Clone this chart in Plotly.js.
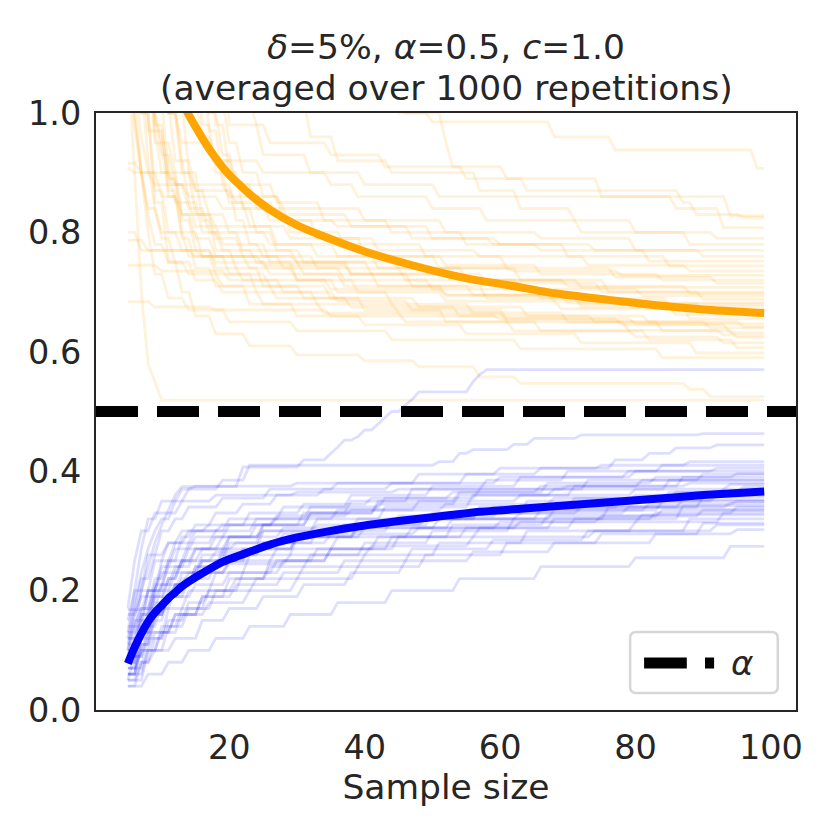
<!DOCTYPE html>
<html>
<head>
<meta charset="utf-8">
<script src="https://cdn.plot.ly/plotly-3.0.1.min.js"></script>
<style>
  html, body { margin: 0; padding: 0; background: #fff; }
  #chart { width: 830px; height: 830px; }
</style>
</head>
<body>
<div id="chart"></div>
<script>
// sample sizes run from 5 to 99
const FIRST_SIZE = 5;
const LAST_SIZE = 99;
const ALPHA_LEVEL = 0.5;

// mean upper bound (orange) and mean lower bound (blue)
const orangeMeanX = [5, 6, 7, 8, 9, 10, 11, 12, 13, 14, 15, 16, 17, 18, 19, 20, 21, 23, 26, 30, 34, 40, 47, 53, 56, 61, 68, 76, 83, 90, 99];
const orangeMeanY = [1.6, 1.42, 1.3, 1.22, 1.16, 1.11, 1.075, 1.045, 1.02, 0.997, 0.977, 0.958, 0.94, 0.924, 0.909, 0.896, 0.885, 0.864, 0.838, 0.812, 0.793, 0.768, 0.745, 0.728, 0.721, 0.712, 0.698, 0.687, 0.678, 0.671, 0.665];
const blueMeanX = [5, 6, 7, 8, 9, 10, 11, 12, 13, 14, 16, 19, 23, 26, 30, 34, 40, 47, 53, 57, 63, 70, 76, 81, 90, 99];
const blueMeanY = [0.078, 0.105, 0.128, 0.148, 0.163, 0.175, 0.187, 0.197, 0.207, 0.215, 0.229, 0.248, 0.265, 0.277, 0.289, 0.298, 0.309, 0.319, 0.327, 0.332, 0.337, 0.343, 0.348, 0.352, 0.36, 0.366];

// single repetitions: [sample size where the bound changes, new value]
const orangeRuns = [
  [[5,1.8],[9,1.5],[14,1.3],[22,1.15],[33,1.05],[45,1.0],[50,0.985],[68,0.96],[77,0.938],[98,0.907]],
  [[5,1.7],[10,1.4],[18,1.2],[30,1.08],[46,1.0],[52,0.95],[53,0.91],[55,0.89],[64,0.87],[87,0.85],[89,0.83],[96,0.825]],
  [[5,1.5],[8,1.25],[12,1.1],[17,1.02],[24,0.98],[26,0.95],[35,0.93],[43,0.91],[61,0.89],[75,0.86],[86,0.84],[93,0.808]],
  [[5,1.4],[7,1.2],[9,1.08],[11,1.0],[13,0.95],[18,0.92],[25,0.9],[35,0.88],[39,0.86],[50,0.84],[58,0.82],[72,0.8],[88,0.78]],
  [[5,0.916],[7,0.9],[12,0.88],[20,0.86],[28,0.84],[40,0.82],[52,0.8],[66,0.79],[80,0.77]],
  [[5,0.908],[6,0.9],[9,0.88],[14,0.86],[19,0.84],[26,0.82],[36,0.81],[47,0.79],[60,0.78],[74,0.77],[90,0.76]],
  [[5,1.3],[7,1.1],[9,1.0],[10,0.95],[12,0.9],[15,0.87],[21,0.85],[27,0.83],[38,0.81],[50,0.79],[59,0.78],[66,0.77],[82,0.752]],
  [[5,1.9],[8,1.4],[11,1.15],[14,1.02],[16,0.96],[18,0.92],[21,0.88],[27,0.85],[34,0.82],[44,0.8],[55,0.78],[70,0.76],[85,0.744]],
  [[5,1.2],[6,1.05],[7,0.96],[8,0.9],[10,0.86],[13,0.83],[18,0.81],[29,0.79],[42,0.77],[57,0.76],[73,0.745],[88,0.735]],
  [[5,0.8],[7,0.77],[16,0.76],[30,0.75],[45,0.74],[62,0.735],[78,0.728]],
  [[5,1.5],[7,1.25],[9,1.1],[11,1.0],[13,0.92],[15,0.87],[17,0.83],[20,0.8],[26,0.78],[36,0.76],[52,0.745],[66,0.73],[84,0.72]],
  [[5,1.7],[9,1.3],[13,1.1],[17,1.0],[19,0.93],[21,0.88],[24,0.84],[29,0.8],[37,0.78],[49,0.76],[61,0.74],[77,0.725],[92,0.715]],
  [[5,0.787],[8,0.77],[15,0.76],[25,0.745],[38,0.73],[55,0.72],[72,0.708]],
  [[5,1.4],[7,1.15],[9,1.0],[10,0.93],[12,0.88],[14,0.84],[17,0.8],[22,0.77],[30,0.75],[41,0.73],[58,0.715],[75,0.7]],
  [[5,1.25],[6,1.1],[8,0.97],[10,0.9],[12,0.85],[15,0.81],[19,0.78],[25,0.76],[33,0.74],[46,0.72],[63,0.705],[81,0.694]],
  [[5,2.0],[10,1.4],[14,1.15],[18,1.02],[20,0.95],[22,0.9],[25,0.86],[28,0.82],[33,0.79],[40,0.76],[51,0.74],[63,0.72],[76,0.7],[90,0.688]],
  [[5,0.745],[10,0.735],[20,0.72],[35,0.705],[52,0.695],[70,0.682]],
  [[5,1.1],[6,0.98],[7,0.9],[8,0.84],[10,0.8],[13,0.77],[18,0.75],[26,0.73],[37,0.71],[52,0.695],[68,0.685],[85,0.676]],
  [[5,1.6],[8,1.2],[10,1.02],[12,0.92],[14,0.85],[16,0.8],[19,0.77],[24,0.75],[31,0.73],[42,0.71],[56,0.695],[72,0.68],[90,0.67]],
  [[5,1.35],[7,1.1],[9,0.97],[11,0.89],[13,0.83],[15,0.79],[18,0.76],[23,0.74],[30,0.72],[39,0.7],[52,0.685],[69,0.672],[86,0.662]],
  [[5,1.8],[10,1.3],[15,1.08],[18,0.98],[20,0.9],[22,0.84],[24,0.8],[27,0.77],[31,0.75],[38,0.73],[47,0.71],[58,0.69],[72,0.675],[88,0.655]],
  [[5,0.684],[9,0.675],[18,0.67],[35,0.66],[60,0.655],[80,0.647]],
  [[5,1.15],[6,0.99],[7,0.9],[8,0.83],[9,0.78],[11,0.75],[14,0.73],[19,0.71],[27,0.69],[38,0.675],[54,0.66],[74,0.65],[91,0.64]],
  [[5,1.5],[7,1.2],[9,1.02],[11,0.9],[13,0.82],[15,0.77],[18,0.74],[22,0.72],[28,0.7],[36,0.685],[47,0.67],[61,0.655],[78,0.645],[94,0.632]],
  [[5,1.9],[10,1.35],[14,1.1],[17,0.97],[19,0.88],[21,0.82],[23,0.78],[26,0.75],[30,0.72],[36,0.7],[44,0.68],[56,0.665],[70,0.65],[84,0.635],[95,0.624]],
  [[5,1.3],[7,1.05],[8,0.92],[9,0.84],[10,0.79],[12,0.75],[15,0.72],[19,0.7],[25,0.68],[34,0.665],[46,0.65],[62,0.635],[80,0.625],[93,0.615]],
  [[5,1.7],[9,1.25],[12,1.02],[14,0.9],[16,0.82],[18,0.77],[21,0.74],[25,0.71],[31,0.69],[40,0.67],[52,0.65],[66,0.635],[82,0.62],[95,0.607]],
  [[5,1.45],[7,1.15],[9,0.98],[11,0.87],[13,0.79],[15,0.74],[18,0.71],[23,0.68],[30,0.66],[40,0.645],[55,0.63],[72,0.615],[89,0.598]],
  [[5,1.2],[6,1.02],[7,0.9],[8,0.8],[9,0.73],[11,0.69],[14,0.67],[20,0.65],[30,0.635],[44,0.62],[63,0.605],[84,0.59]],
  [[5,1.1],[6,0.9],[7,0.7],[8,0.58],[9,0.55],[10,0.519]],
  [[5,1.3],[7,1.0],[9,0.85],[11,0.75],[13,0.7],[15,0.66],[18,0.63],[23,0.61],[30,0.595],[40,0.585],[48,0.575],[57,0.558],[63,0.547],[88,0.537],[91,0.525]],
  [[5,1.6],[12,1.1],[20,0.98],[25,0.93],[32,0.9],[40,0.88],[51,0.86],[94,0.828]],
  [[5,1.8],[15,1.2],[28,1.02],[32,0.96],[36,0.92],[44,0.9],[57,0.87],[63,0.84],[71,0.82],[80,0.8],[92,0.79]],
  [[5,1.4],[7,1.1],[9,0.95],[11,0.86],[13,0.8],[16,0.76],[20,0.73],[26,0.71],[35,0.69],[48,0.675],[64,0.66],[82,0.65],[96,0.642]],
  [[5,1.6],[8,1.2],[11,1.0],[13,0.9],[15,0.83],[18,0.79],[22,0.76],[28,0.74],[37,0.72],[50,0.705],[66,0.69],[85,0.68]],
  [[5,1.25],[7,1.0],[9,0.87],[11,0.8],[14,0.76],[18,0.73],[24,0.7],[33,0.68],[45,0.665],[61,0.65],[79,0.636],[93,0.628]],
  [[5,1.9],[9,1.4],[13,1.12],[16,0.98],[18,0.9],[20,0.85],[23,0.81],[27,0.78],[33,0.76],[42,0.74],[55,0.72],[70,0.71],[88,0.698]]
];

const blueRuns = [
  [[5,0.1],[6,0.16],[7,0.2],[8,0.24],[9,0.28],[10,0.31],[11,0.335],[12,0.36],[13,0.374],[22,0.407],[31,0.419],[35,0.43],[36,0.44],[37,0.452],[39,0.458],[40,0.469],[42,0.48],[43,0.49],[44,0.5],[46,0.511],[47,0.52],[48,0.533],[56,0.55],[57,0.562],[58,0.57]],
  [[5,0.12],[6,0.18],[7,0.23],[8,0.27],[9,0.3],[10,0.32],[12,0.35],[14,0.37],[19,0.385],[23,0.41],[51,0.416],[54,0.43],[56,0.436],[62,0.445],[65,0.455],[72,0.461],[90,0.463]],
  [[5,0.08],[7,0.14],[9,0.2],[11,0.25],[13,0.29],[15,0.31],[18,0.33],[22,0.345],[27,0.36],[34,0.37],[44,0.38],[55,0.395],[66,0.405],[77,0.419],[82,0.43],[86,0.439],[92,0.444]],
  [[5,0.15],[6,0.2],[8,0.26],[10,0.3],[12,0.32],[14,0.34],[19,0.355],[26,0.37],[36,0.38],[48,0.395],[60,0.405],[75,0.41],[88,0.416]],
  [[5,0.06],[7,0.11],[9,0.16],[11,0.2],[13,0.23],[16,0.26],[20,0.29],[25,0.31],[31,0.33],[38,0.35],[47,0.37],[58,0.385],[70,0.4],[84,0.41]],
  [[5,0.168],[8,0.2],[10,0.25],[12,0.28],[15,0.3],[20,0.32],[28,0.34],[38,0.36],[50,0.375],[63,0.39],[79,0.4],[92,0.405]],
  [[5,0.1],[7,0.16],[9,0.21],[11,0.24],[14,0.27],[18,0.29],[24,0.31],[32,0.33],[42,0.35],[54,0.365],[67,0.38],[83,0.39],[95,0.396]],
  [[5,0.05],[6,0.09],[8,0.14],[10,0.18],[12,0.21],[15,0.24],[19,0.27],[25,0.3],[33,0.32],[43,0.34],[56,0.36],[71,0.375],[87,0.39]],
  [[5,0.13],[7,0.2],[9,0.25],[11,0.28],[13,0.3],[17,0.31],[23,0.33],[31,0.345],[41,0.355],[53,0.365],[66,0.375],[81,0.385]],
  [[5,0.09],[7,0.13],[9,0.17],[12,0.21],[15,0.24],[19,0.26],[25,0.28],[33,0.3],[44,0.32],[57,0.34],[71,0.355],[85,0.365],[96,0.374]],
  [[5,0.07],[8,0.12],[11,0.17],[14,0.2],[18,0.23],[23,0.26],[30,0.29],[39,0.31],[50,0.33],[64,0.35],[80,0.36],[93,0.37]],
  [[5,0.11],[6,0.17],[7,0.22],[9,0.26],[11,0.28],[14,0.3],[19,0.31],[27,0.325],[38,0.335],[52,0.345],[68,0.355],[86,0.365]],
  [[5,0.04],[7,0.08],[9,0.12],[11,0.15],[14,0.18],[17,0.2],[21,0.22],[26,0.24],[32,0.26],[40,0.28],[50,0.3],[62,0.32],[76,0.34],[90,0.357]],
  [[5,0.14],[7,0.17],[9,0.2],[12,0.23],[16,0.25],[22,0.27],[30,0.29],[40,0.305],[53,0.32],[68,0.335],[84,0.35]],
  [[5,0.08],[7,0.13],[9,0.18],[11,0.22],[13,0.25],[16,0.27],[21,0.28],[28,0.295],[37,0.31],[49,0.32],[63,0.33],[79,0.34],[94,0.346]],
  [[5,0.06],[7,0.1],[10,0.14],[13,0.17],[17,0.2],[22,0.23],[28,0.25],[35,0.27],[44,0.29],[55,0.305],[68,0.32],[83,0.33],[95,0.34]],
  [[5,0.12],[7,0.16],[9,0.19],[12,0.21],[15,0.23],[20,0.25],[27,0.27],[36,0.29],[47,0.305],[60,0.315],[75,0.325],[90,0.335]],
  [[5,0.05],[8,0.1],[11,0.14],[14,0.17],[18,0.2],[24,0.22],[31,0.24],[40,0.26],[51,0.28],[64,0.3],[80,0.315],[93,0.33]],
  [[5,0.1],[6,0.15],[8,0.2],[10,0.23],[13,0.25],[18,0.265],[25,0.28],[35,0.295],[48,0.305],[63,0.315],[81,0.327]],
  [[5,0.07],[7,0.1],[9,0.13],[12,0.16],[16,0.19],[21,0.21],[28,0.23],[37,0.25],[47,0.27],[59,0.285],[73,0.3],[88,0.32]],
  [[5,0.09],[8,0.13],[12,0.16],[17,0.18],[23,0.2],[30,0.22],[39,0.24],[49,0.26],[61,0.28],[75,0.295],[90,0.313]],
  [[5,0.16],[7,0.19],[10,0.21],[14,0.23],[20,0.245],[29,0.26],[41,0.275],[56,0.29],[74,0.3],[92,0.31]],
  [[5,0.05],[7,0.08],[9,0.1],[12,0.12],[16,0.15],[20,0.17],[25,0.19],[31,0.21],[38,0.23],[46,0.25],[56,0.265],[68,0.28],[83,0.295],[95,0.302]],
  [[5,0.04],[8,0.06],[11,0.08],[14,0.1],[18,0.12],[23,0.14],[29,0.16],[36,0.18],[44,0.2],[54,0.22],[66,0.24],[80,0.255],[94,0.274]],
  [[5,0.17],[6,0.25],[7,0.3],[9,0.33],[13,0.35],[18,0.36],[30,0.365],[45,0.37],[70,0.375],[88,0.38]],
  [[5,0.13],[6,0.2],[7,0.27],[8,0.32],[10,0.35],[13,0.37],[15,0.375],[30,0.38],[60,0.39],[80,0.4]],
  [[5,0.1],[7,0.15],[9,0.19],[11,0.22],[13,0.25],[15,0.27],[19,0.29],[25,0.3],[33,0.31],[45,0.325],[60,0.34],[78,0.35],[92,0.36]],
  [[5,0.08],[6,0.12],[8,0.17],[10,0.21],[12,0.24],[15,0.27],[20,0.29],[28,0.305],[39,0.32],[55,0.33],[72,0.34],[87,0.352]],
  [[5,0.06],[7,0.11],[9,0.15],[11,0.19],[13,0.22],[16,0.25],[20,0.28],[25,0.31],[32,0.33],[42,0.345],[54,0.36],[68,0.37],[85,0.385]],
  [[5,0.12],[8,0.16],[11,0.19],[15,0.21],[20,0.23],[27,0.25],[35,0.27],[45,0.29],[57,0.305],[71,0.32],[87,0.342]],
  [[5,0.09],[6,0.14],[8,0.2],[10,0.24],[12,0.27],[15,0.29],[20,0.31],[27,0.32],[36,0.335],[48,0.35],[63,0.36],[80,0.37],[94,0.378]],
  [[5,0.07],[7,0.12],[9,0.16],[11,0.19],[14,0.22],[18,0.25],[23,0.27],[30,0.29],[39,0.305],[51,0.32],[66,0.335],[82,0.345],[95,0.35]],
  [[5,0.11],[7,0.17],[9,0.22],[11,0.25],[14,0.28],[18,0.3],[24,0.32],[32,0.34],[43,0.355],[57,0.37],[73,0.385],[90,0.395]],
  [[5,0.06],[8,0.1],[10,0.13],[13,0.16],[16,0.19],[20,0.22],[26,0.25],[33,0.27],[42,0.29],[53,0.31],[67,0.325],[84,0.335]]
];

const xTickVals = [20, 40, 60, 80, 100];
const yTickVals = [0, 0.2, 0.4, 0.6, 0.8, 1.0];
const titleLines = ["<i>δ</i>=5%, <i>α</i>=0.5, <i>c</i>=1.0", "(averaged over 1000 repetitions)"];

const FONT = "DejaVu Sans, sans-serif";
const INK = "#262626";

// a bound only moves one sample at a time: hold the value, then slope to the next one
function stepPath(run) {
  const xs = [];
  const ys = [];
  run.forEach(([x, y], i) => {
    if (i > 0) {
      xs.push(x - 1);
      ys.push(run[i - 1][1]);
    }
    xs.push(x);
    ys.push(y);
  });
  xs.push(LAST_SIZE);
  ys.push(run[run.length - 1][1]);
  return { xs, ys };
}

function runTrace(run, color) {
  const p = stepPath(run);
  return {
    x: p.xs,
    y: p.ys,
    type: "scatter",
    mode: "lines",
    line: { color, width: 2.8 },
    hoverinfo: "skip",
    showlegend: false,
  };
}

const xRange = [FIRST_SIZE - 0.05 * (LAST_SIZE - FIRST_SIZE), LAST_SIZE + 0.05 * (LAST_SIZE - FIRST_SIZE)];

const traces = [
  ...orangeRuns.map((r) => runTrace(r, "rgba(255,165,0,0.14)")),
  ...blueRuns.map((r) => runTrace(r, "rgba(0,0,255,0.13)")),
  {
    x: orangeMeanX,
    y: orangeMeanY,
    type: "scatter",
    mode: "lines",
    line: { color: "#FFA500", width: 8, shape: "spline", smoothing: 0.6 },
    showlegend: false,
  },
  {
    x: blueMeanX,
    y: blueMeanY,
    type: "scatter",
    mode: "lines",
    line: { color: "#0000FF", width: 8, shape: "spline", smoothing: 0.6 },
    showlegend: false,
  },
  {
    x: xRange,
    y: [ALPHA_LEVEL, ALPHA_LEVEL],
    type: "scatter",
    mode: "lines",
    line: { color: "#000000", width: 11, dash: "42px,19px" },
    showlegend: false,
    name: "α",
  },
];

// hand-drawn legend box (rounded corners) in paper units
const lx0 = 0.763, lx1 = 0.974, ly0 = 0.0285, ly1 = 0.1307;
const rx = 0.009, ry = 0.0105;
const legendBox =
  `M ${lx0 + rx} ${ly0} L ${lx1 - rx} ${ly0} Q ${lx1} ${ly0} ${lx1} ${ly0 + ry} ` +
  `L ${lx1} ${ly1 - ry} Q ${lx1} ${ly1} ${lx1 - rx} ${ly1} ` +
  `L ${lx0 + rx} ${ly1} Q ${lx0} ${ly1} ${lx0} ${ly1 - ry} ` +
  `L ${lx0} ${ly0 + ry} Q ${lx0} ${ly0} ${lx0 + rx} ${ly0} Z`;
const legendY = 0.0787;

const titleFont = { family: FONT, size: 34.5, color: INK };

const layout = {
  width: 830,
  height: 830,
  margin: { l: 96, r: 34, t: 113, b: 120 },
  paper_bgcolor: "#ffffff",
  plot_bgcolor: "#ffffff",
  font: { family: FONT, size: 33, color: INK },
  xaxis: {
    range: xRange,
    tickvals: xTickVals,
    ticktext: xTickVals.map(String),
    ticks: "outside",
    ticklen: 7,
    tickcolor: "rgba(0,0,0,0)",
    showgrid: false,
    zeroline: false,
    showline: true,
    mirror: true,
    linecolor: INK,
    linewidth: 2,
    tickfont: { family: FONT, size: 33.5, color: INK },
    title: { text: "Sample size", font: titleFont, standoff: 4 },
  },
  yaxis: {
    range: [0, 1],
    tickvals: yTickVals,
    ticktext: yTickVals.map((v) => v.toFixed(1)),
    ticks: "outside",
    ticklen: 6,
    tickcolor: "rgba(0,0,0,0)",
    showgrid: false,
    zeroline: false,
    showline: true,
    mirror: true,
    linecolor: INK,
    linewidth: 2,
    tickfont: { family: FONT, size: 33.5, color: INK },
  },
  shapes: [
    {
      type: "path",
      xref: "paper",
      yref: "paper",
      path: legendBox,
      fillcolor: "rgba(255,255,255,0.8)",
      line: { color: "#d6d6d6", width: 2.5 },
    },
    {
      type: "line",
      xref: "paper",
      yref: "paper",
      x0: 0.783, x1: 0.844, y0: legendY, y1: legendY,
      line: { color: "#000000", width: 11 },
    },
    {
      type: "line",
      xref: "paper",
      yref: "paper",
      x0: 0.870, x1: 0.883, y0: legendY, y1: legendY,
      line: { color: "#000000", width: 11 },
    },
  ],
  annotations: [
    {
      xref: "paper", yref: "paper",
      x: 0.5, y: 1.1106,
      text: titleLines[0],
      showarrow: false,
      xanchor: "center", yanchor: "middle",
      font: titleFont,
    },
    {
      xref: "paper", yref: "paper",
      x: 0.5, y: 1.0419,
      text: titleLines[1],
      showarrow: false,
      xanchor: "center", yanchor: "middle",
      font: titleFont,
    },
    {
      xref: "paper",
      yref: "paper",
      x: 0.923,
      y: legendY,
      text: "<i>α</i>",
      showarrow: false,
      xanchor: "center",
      yanchor: "middle",
      font: { family: FONT, size: 34, color: INK },
    },
  ],
};

Plotly.newPlot("chart", traces, layout, { displayModeBar: false, staticPlot: true });
</script>
</body>
</html>
